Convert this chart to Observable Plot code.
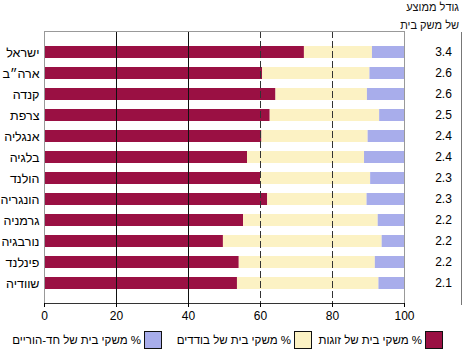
<!DOCTYPE html>
<html><head><meta charset="utf-8">
<script src="https://cdn.jsdelivr.net/npm/d3@7"></script>
<script src="https://cdn.jsdelivr.net/npm/@observablehq/plot@0.6"></script>
<style>
body{margin:0;background:#fff;font-family:"Liberation Sans",Arial,sans-serif;}
#wrap{position:relative;width:470px;height:357px;overflow:hidden;}
#header{position:absolute;top:-2px;right:11px;text-align:right;direction:rtl;font-size:11px;line-height:18px;color:#111;white-space:nowrap;}
#vline{position:absolute;left:461px;top:32px;height:273px;width:0;border-left:1px solid #777;}
.item{position:absolute;top:331px;display:flex;direction:rtl;align-items:center;font-size:11.5px;color:#000;white-space:nowrap;}
.box{width:16px;height:16px;border:1.5px solid #111;margin-left:3px;flex:none;}
</style></head><body>
<div id="wrap"><div id="chart"></div><div id="header">גודל ממוצע<br>של משק בית</div><div id="vline"></div></div>
<script>
const countries = ["ישראל","ארה״ב","קנדה","צרפת","אנגליה","בלגיה","הולנד","הונגריה","גרמניה","נורבגיה","פינלנד","שוודיה"];
const couples = [72.2,60.6,64.3,62.7,60.4,56.4,60.0,62.0,55.3,49.7,54.1,53.6];
const singles = [18.9,29.8,25.4,30.4,29.5,32.5,30.6,27.6,37.4,44.1,37.8,39.3];
const singleParents = [8.9,9.6,10.3,6.9,10.1,11.1,9.4,10.4,7.3,6.2,8.1,7.1];
const householdSize = ["3.4","2.6","2.6","2.5","2.4","2.4","2.3","2.3","2.2","2.2","2.2","2.1"];
const seriesNames = ["% משקי בית של זוגות","% משקי בית של בודדים","% משקי בית של חד-הוריים"];
const seriesColors = ["#9A1043","#FCF2C4","#A8ADEB"];
const xTicks = [0,20,40,60,80,100];
const legendRightOffsets = [27,158,308];

const seriesValues = [couples, singles, singleParents];
const table = [];
countries.forEach((c,i)=>{
  seriesNames.forEach((s,j)=>table.push({country:c, series:s, value:seriesValues[j][i]}));
});

const chart = Plot.plot({
  width:470, height:325,
  marginLeft:44, marginRight:66, marginTop:31, marginBottom:22,
  style:{fontFamily:"Liberation Sans, Arial, sans-serif", fontSize:"12px", color:"#000", background:"transparent"},
  x:{domain:[0,100], label:null},
  y:{domain:countries, padding:0.45, label:null},
  color:{domain:seriesNames, range:seriesColors},
  marks:[
    Plot.barX(table, Plot.stackX({x:"value", y:"country", fill:"series"})),
    Plot.ruleX([20,40], {stroke:"#111", strokeWidth:1}),
    Plot.ruleX([60,80], {stroke:"#333", strokeWidth:1, strokeDasharray:"7,3"}),
    Plot.frame({stroke:"#999"}),
    Plot.frame({anchor:"bottom", stroke:"#333"}),
    Plot.axisX({ticks:xTicks, tickSize:4, tickPadding:4, fontSize:12, label:null}),
    Plot.axisY({tickSize:0, tickPadding:5, fontSize:12.5, label:null}),
    Plot.text(countries, {y:d=>d, text:(d,i)=>householdSize[i], frameAnchor:"right", dx:39, textAnchor:"middle", fontSize:12})
  ]
});
const wrap = document.getElementById("wrap");
document.getElementById("chart").appendChild(chart);

seriesNames.forEach((s,j)=>{
  const it = document.createElement("div"); it.className="item"; it.style.right = legendRightOffsets[j]+"px";
  const b = document.createElement("div"); b.className="box"; b.style.background=seriesColors[j];
  const t = document.createElement("span"); t.textContent=s;
  it.appendChild(b); it.appendChild(t); wrap.appendChild(it);
});
</script></body></html>
